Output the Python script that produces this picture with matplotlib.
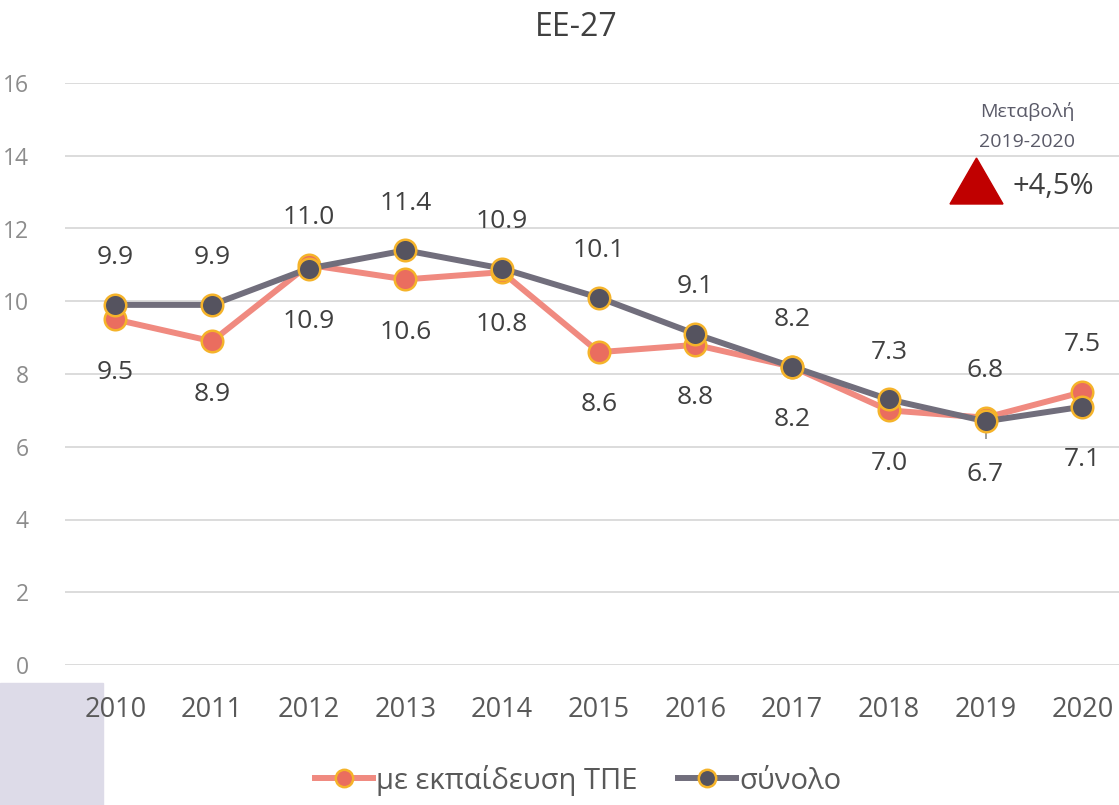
import matplotlib

matplotlib.use("Agg")
import matplotlib.pyplot as plt
from matplotlib.patches import Rectangle

years = [2010, 2011, 2012, 2013, 2014, 2015, 2016, 2017, 2018, 2019, 2020]
ict_edu = [9.5, 8.9, 11.0, 10.6, 10.8, 8.6, 8.8, 8.2, 7.0, 6.8, 7.5]
total = [9.9, 9.9, 10.9, 11.4, 10.9, 10.1, 9.1, 8.2, 7.3, 6.7, 7.1]
series_names = ["με εκπαίδευση ΤΠΕ", "σύνολο"]
yticks = [0, 2, 4, 6, 8, 10, 12, 14, 16]
change_label = "+4,5%"

plt.rcParams["font.family"] = ["Open Sans", "DejaVu Sans"]

fig = plt.figure(figsize=(11.19, 8.05), dpi=100)
ax = fig.add_axes([65 / 1119, 140 / 805, 1 - 65 / 1119, 582 / 805])
ax.set_xlim(2009.48, 2020.38)
ax.set_ylim(0, 16)

for s in ax.spines.values():
    s.set_visible(False)
ax.set_yticks(yticks)
ax.grid(axis="y", color="#d9d9d9", lw=1.3)
ax.set_axisbelow(True)
ax.tick_params(axis="y", length=0, labelsize=16.5, labelcolor="#8c8c8c", pad=26)
ax.set_xticks(years)
ax.tick_params(axis="x", length=0, labelsize=19.5, labelcolor="#595959", pad=22)

ax.plot(years, ict_edu, color="#f08a80", lw=4.3, marker="o", ms=15.5,
        mfc="#ea6d5f", mec="#f5b32a", mew=1.8, label=series_names[0], zorder=3)
ax.plot(years, total, color="#716e7c", lw=4.3, marker="o", ms=15.5,
        mfc="#55535f", mec="#f5b32a", mew=1.8, label=series_names[1], zorder=4)
ax.vlines(years[9], total[9] - 0.5, total[9], color="#8c8c8c", lw=1.2, zorder=2)

up, down = 34, -38
for x, a, b in zip(years, ict_edu, total):
    a_up = a > b
    ax.annotate(f"{a:.1f}", (x, a), xytext=(0, up if a_up else down),
                textcoords="offset points", ha="center", va="center",
                fontsize=19, color="#404040")
    ax.annotate(f"{b:.1f}", (x, b), xytext=(0, down if a_up else up),
                textcoords="offset points", ha="center", va="center",
                fontsize=19, color="#404040")

fig.text(576 / 1119, 1 - 28 / 805, "ΕΕ-27", ha="center", va="center",
         fontsize=23, color="#404040")

# change box
fig.text(1027 / 1119, 1 - 111 / 805, "Μεταβολή", ha="center", va="center",
         fontsize=14, color="#5a5a68")
fig.text(1027 / 1119, 1 - 142 / 805, "2019-2020", ha="center", va="center",
         fontsize=14, color="#5a5a68")
fig.patches.append(plt.Polygon(
    [(950 / 1119, 1 - 204 / 805), (1003 / 1119, 1 - 204 / 805),
     (976.5 / 1119, 1 - 158 / 805)],
    closed=True, transform=fig.transFigure, color="#c00000"))
fig.text(1013 / 1119, 1 - 186 / 805, change_label, ha="left", va="center",
         fontsize=21, color="#404040")

# light box artifact bottom-left
fig.patches.append(Rectangle((0, 0), 103 / 1119, 122 / 805,
                             transform=fig.transFigure, color="#dddbe8",
                             zorder=-1))

leg = fig.legend(loc="center", bbox_to_anchor=(578 / 1119, 1 - 780 / 805),
                 ncol=2, frameon=False, fontsize=21, handlelength=2.0,
                 handletextpad=0.1, columnspacing=1.4, labelcolor="#595959")
for h in leg.legend_handles:
    h.set_markersize(12.5)

fig.savefig("out.png", dpi=100)
